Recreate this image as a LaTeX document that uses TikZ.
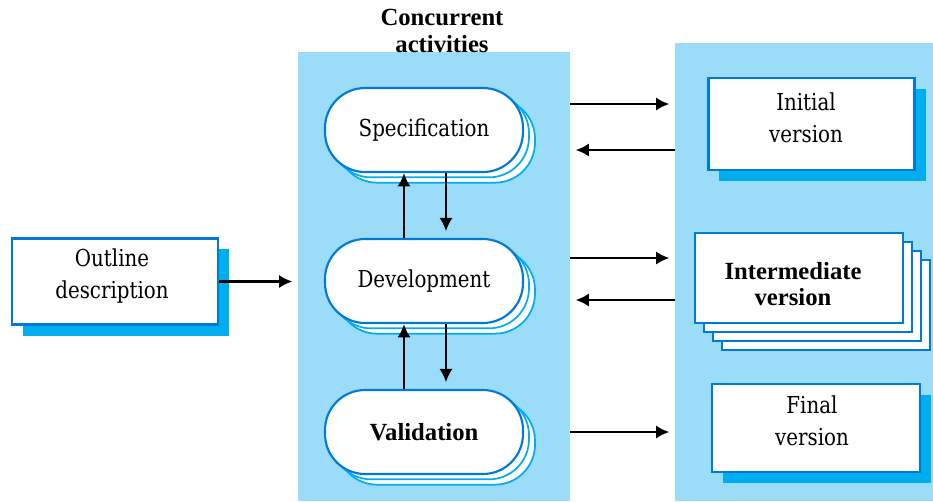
\documentclass[tikz,border=0pt]{standalone}
\usepackage{fontspec}
\newfontfamily\tms{Liberation Serif}
\newfontfamily\slab[FakeStretch=0.85]{DejaVu Serif}
\usetikzlibrary{shadows,arrows.meta,calc}
\definecolor{panel}{RGB}{155,221,249}
\definecolor{bord}{RGB}{0,122,216}
\definecolor{shad}{RGB}{0,174,239}
\begin{document}
\begin{tikzpicture}[x=0.75pt,y=-0.75pt,
  panelbox/.style={fill=panel, draw=none, inner sep=0pt},
  vbox/.style={draw=bord, line width=2.2pt, fill=white, inner sep=0pt, minimum width=155pt, minimum height=66pt},
  shadowed/.style={general shadow={fill=shad, shadow xshift=8pt, shadow yshift=-8pt}},
  activity/.style={draw=bord, line width=1.6pt, fill=white, rounded corners=30pt, inner sep=0pt,
     minimum width=148.5pt, minimum height=63pt,
     double copy shadow={shadow xshift=4.5pt, shadow yshift=-4pt, fill=white, draw=shad, line width=1.3pt}},
  lbl/.style={font=\slab\fontsize{17.5}{24}\selectfont, align=center, inner sep=0pt},
  blbl/.style={font=\tms\bfseries\fontsize{18.5}{20}\selectfont, align=center, inner sep=0pt},
  arr/.style={line width=2.1pt, -{Latex[length=10pt,width=10pt]}}
]
\useasboundingbox (0,0) rectangle (933,501);
% panels
\node[panelbox, minimum width=204pt, minimum height=337pt] (mid) at (434,276.5) {};
\node[panelbox, minimum width=193.5pt, minimum height=343.5pt] (right) at (804,272) {};
\node[blbl] (title) at (442,31) {Concurrent\\activities};
% outline description
\node[vbox, shadowed, minimum width=154.5pt, minimum height=65pt] (outline) at (115,281.5) {};
\node[lbl] (outlinet) at (112,276) {Outline\\description};
% activities
\node[activity, font=\slab\fontsize{17.5}{20}\selectfont] (spec) at (424,130) {Specification};
\node[activity, font=\slab\fontsize{17.5}{20}\selectfont] (dev) at (424,281) {Development};
\node[activity, font=\tms\bfseries\fontsize{18.5}{20}\selectfont] (val) at (424,432) {Validation};
% versions
\node[vbox, shadowed, minimum width=155pt, minimum height=69pt] (init) at (811.5,124) {};
\node[lbl] (initt) at (806,118) {Initial\\version};
\foreach \d/\n in {27/c,18/b,9/a}
  \node[vbox, line width=1.8pt, minimum width=156pt, minimum height=67.5pt] (inter\n) at (799+\d,278+\d) {};
\node[vbox, minimum width=156pt, minimum height=67.5pt] (inter) at (799,278) {};
\node[blbl] (intert) at (793,284) {Intermediate\\version};
\node[vbox, shadowed, minimum width=156pt, minimum height=66pt] (final) at (816,428) {};
\node[lbl] (finalt) at (812,421) {Final\\version};
% connectors
\draw[arr, shorten >=4pt] (outline.east) -- (mid.west |- outline.east);
\draw[arr] ([xshift=-15pt]dev.north) -- ([xshift=-15pt]spec.south);
\draw[arr, shorten >=5pt] ([xshift=16.5pt]spec.south) -- ([xshift=16.5pt]dev.north);
\draw[arr] ([xshift=-15pt]val.north) -- ([xshift=-15pt]dev.south);
\draw[arr, shorten >=5pt] ([xshift=16.5pt]dev.south) -- ([xshift=16.5pt]val.north);
\draw[arr, shorten >=4pt] (mid.east |- 0,104) -- (right.west |- 0,104);
\draw[arr, shorten >=4pt] (right.west |- 0,150) -- (mid.east |- 0,150);
\draw[arr, shorten >=4pt] (mid.east |- 0,258) -- (right.west |- 0,258);
\draw[arr, shorten >=4pt] (right.west |- 0,300) -- (mid.east |- 0,300);
\draw[arr, shorten >=4pt] (mid.east |- 0,432) -- (right.west |- 0,432);
\end{tikzpicture}
\end{document}
